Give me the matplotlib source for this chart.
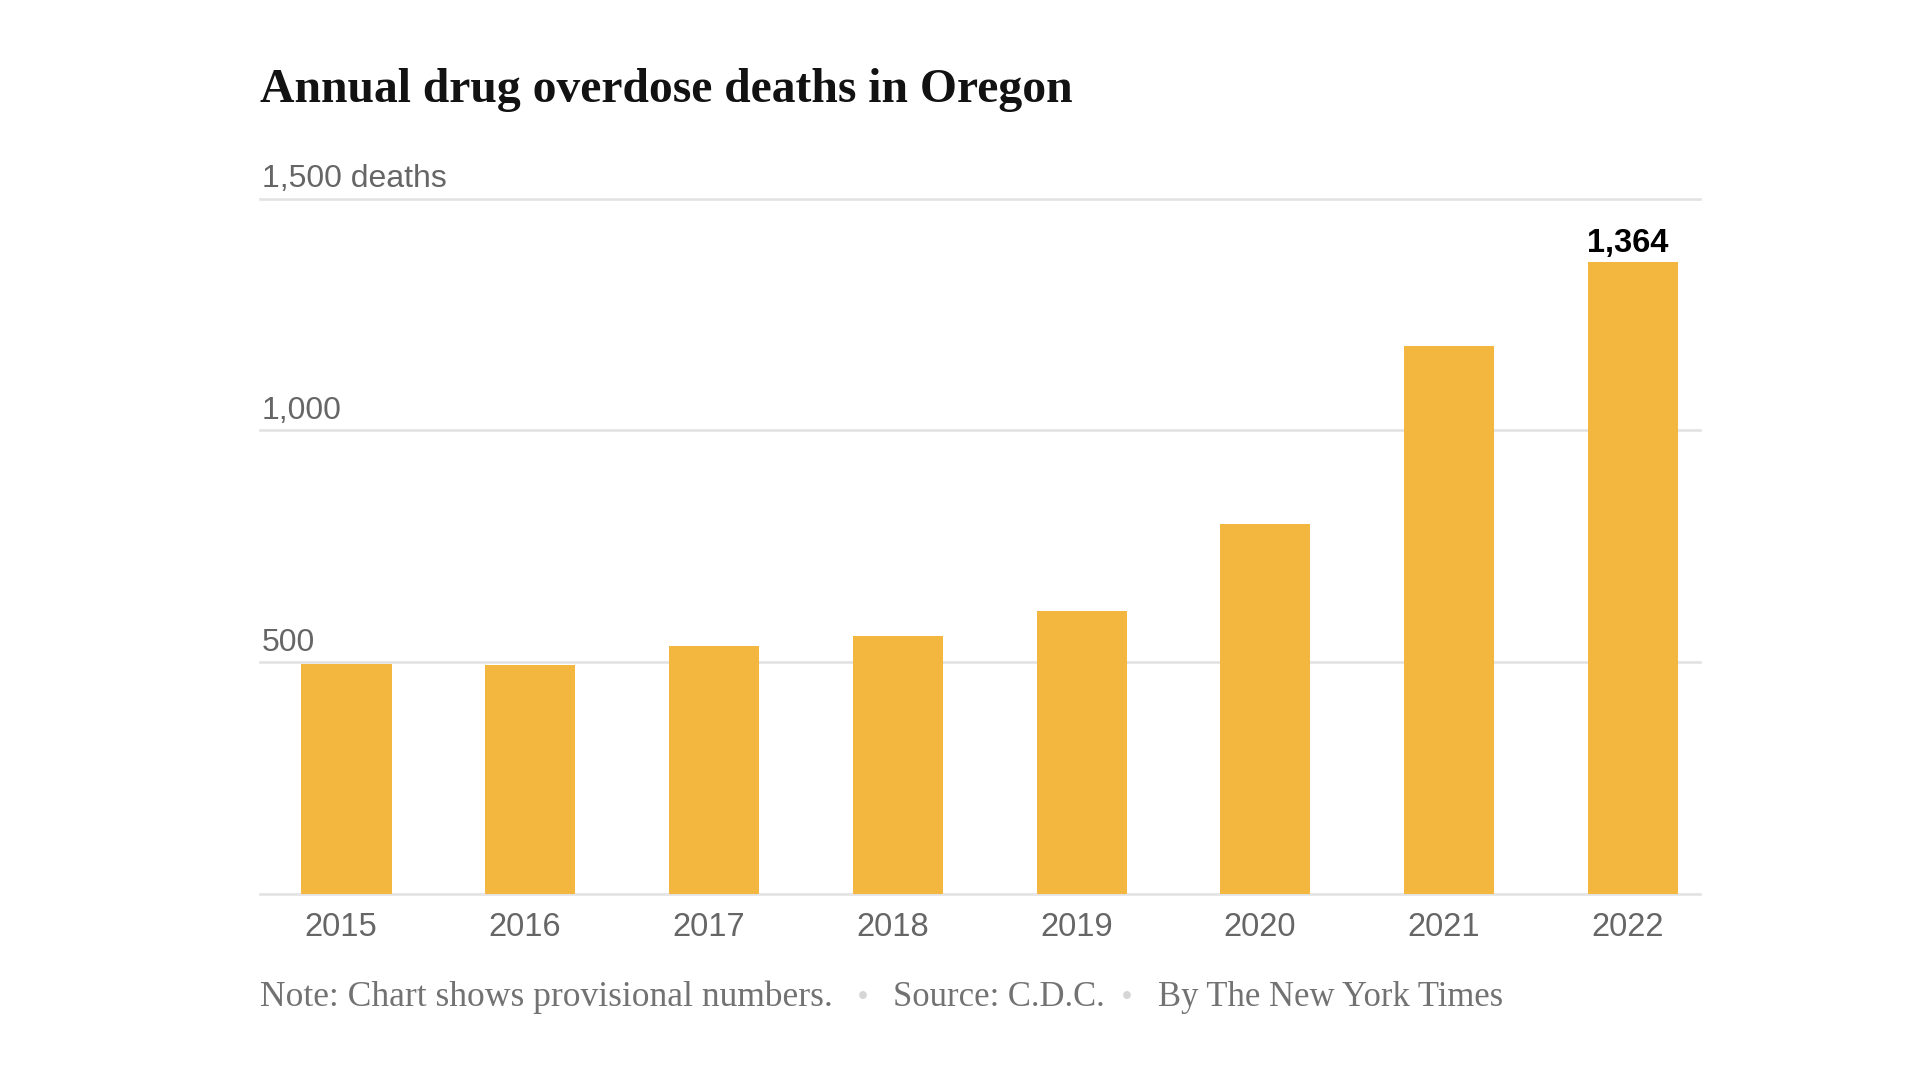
import matplotlib.pyplot as plt

# data
years = ['2015', '2016', '2017', '2018', '2019', '2020', '2021', '2022']
deaths = [497, 495, 535, 557, 610, 799, 1182, 1364]
grid_values = [0, 500, 1000, 1500]
grid_labels = ['', '500', '1,000', '1,500 deaths']

title = 'Annual drug overdose deaths in Oregon'
footer_parts = ['Note: Chart shows provisional numbers.', 'Source: C.D.C.', 'By The New York Times']

bar_color = '#f3b63f'
grid_color = '#e2e2e2'
grey = '#666666'
foot_grey = '#727272'
sans = ['Liberation Sans', 'DejaVu Sans']
serif = ['Liberation Serif', 'DejaVu Serif']

W, H = 1920, 1080
fig = plt.figure(figsize=(19.2, 10.8), dpi=100)
fig.patch.set_facecolor('white')


def px(x, y):
    # pixel coords (from top-left) to figure fraction
    return x / W, 1 - y / H


ax = fig.add_axes([259.6 / W, 1 - 894.3 / H, 1440 / W, 695.8 / H])
xs = list(range(len(years)))
ax.bar(xs, deaths, width=0.49, color=bar_color, zorder=3)
ax.set_xlim(-0.473, 7.363)
ax.set_ylim(0, 1500)
ax.axis('off')

for v, lab in zip(grid_values, grid_labels):
    ax.axhline(v, color=grid_color, lw=1.9, zorder=1, clip_on=False)
    if lab:
        ax.annotate(lab, xy=(0, v), xycoords=('axes fraction', 'data'),
                    xytext=(1.5, 8.3), textcoords='offset points',
                    ha='left', va='baseline', fontsize=23, color=grey, family=sans)

for i, yr in zip(xs, years):
    ax.annotate(yr, xy=(i, 0), xytext=(-3.8, -29.8), textcoords='offset points',
                ha='center', va='baseline', fontsize=23.5, color=grey, family=sans)

# label on the last bar
ax.annotate(f'{deaths[-1]:,}', xy=(xs[-1], deaths[-1]), xytext=(-3.5, 6.9),
            textcoords='offset points', ha='center', va='baseline',
            fontsize=23.5, fontweight='bold', color='black', family=sans)

# title, scaled to the reference width
t = fig.text(*px(259.6, 101.7), title, fontsize=34, fontweight='bold',
             family=serif, color='#121212', va='baseline', ha='left')
fig.canvas.draw()
w = t.get_window_extent().width
t.set_fontsize(34 * 812 / w)

# footer
f0 = fig.text(*px(259.6, 1005.5), footer_parts[0], fontsize=21, family=serif,
              color=foot_grey, va='baseline', ha='left')
fig.canvas.draw()
fs = 21 * 573 / f0.get_window_extent().width
fs2 = fs * 0.975
fig.text(*px(892.7, 1005.5), footer_parts[1], fontsize=fs2, family=serif,
         color=foot_grey, va='baseline', ha='left')
fig.text(*px(1158.4, 1005.5), footer_parts[2], fontsize=fs2, family=serif,
         color=foot_grey, va='baseline', ha='left')
f0.set_fontsize(fs)
for bx in [863.3, 1126.5]:
    fig.text(*px(bx, 997), '•', fontsize=fs * 0.8, family=sans,
             color='#d6d6d6', va='center', ha='center')

fig.savefig('out.png', dpi=100, facecolor='white')
